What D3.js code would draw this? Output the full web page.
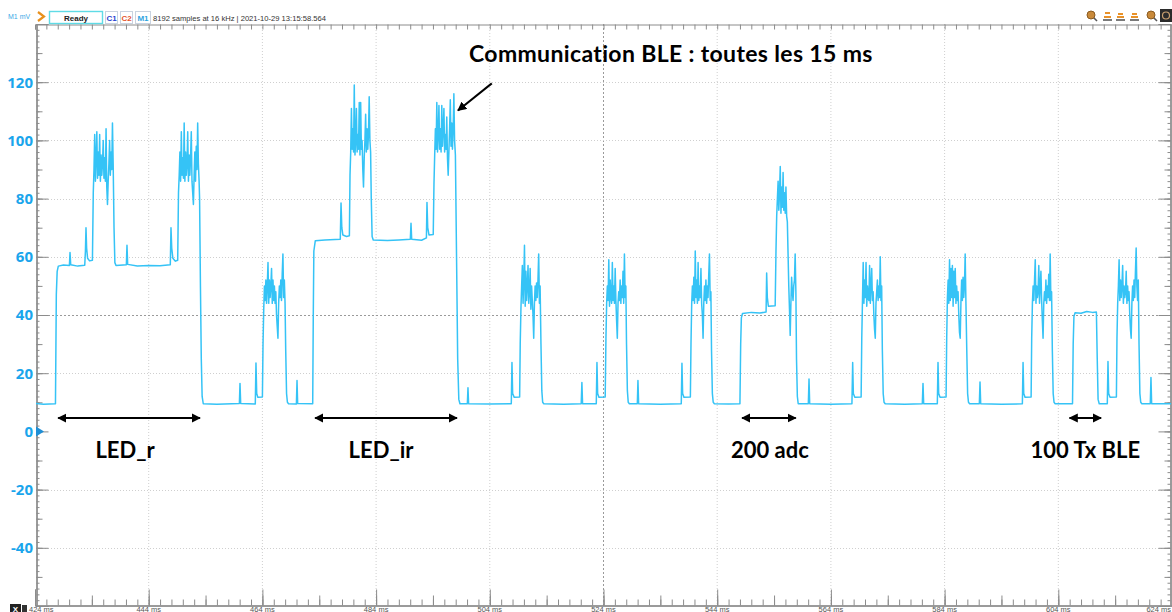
<!DOCTYPE html>
<html>
<head>
<meta charset="utf-8">
<script src="https://cdn.jsdelivr.net/npm/d3@7"></script>
<style>
  html, body { margin: 0; padding: 0; background: #fff; }
  svg { display: block; }
</style>
</head>
<body>
<script>
// ---------- data ----------
const xTickMs = [424, 444, 464, 484, 504, 524, 544, 564, 584, 604, 624];
const xTickText = ["424 ms", "444 ms", "464 ms", "484 ms", "504 ms", "524 ms", "544 ms", "564 ms", "584 ms", "604 ms", "624 ms"];
const yTickVals = [-40, -20, 0, 20, 40, 60, 80, 100, 120];

// slow part of the current trace: [time ms, mV]
const levelTrace = [
  [424.0, 9.6], [425.5, 9.3], [427.6, 9.5],
  [427.75, 47], [427.9, 55], [428.1, 56.8], [429.0, 57.2], [430.05, 57], [430.16, 61.5], [430.28, 57.3],
  [431.5, 56.8], [432.75, 57.1], [432.87, 62], [432.97, 70], [433.08, 63], [433.25, 59.5], [433.6, 58.6], [434.1, 58.8],
  [437.9, 70], [438.05, 58], [438.25, 57], [439.5, 57.2], [440.07, 57.3], [440.18, 64], [440.3, 57.4],
  [442.0, 56.8], [444.0, 57], [446.0, 56.9], [447.8, 57.3], [447.92, 70], [448.05, 63], [448.25, 59.5], [448.7, 58.5], [449.1, 58.8],
  [452.95, 80], [453.1, 50], [453.25, 25], [453.4, 12], [453.6, 9.5], [456.0, 9.3],
  [459.95, 9.6], [460.06, 16.5], [460.18, 9.6],
  [462.75, 9.4], [462.87, 23.5], [463.0, 13], [463.2, 11.7], [464.0, 11.8],
  [468.1, 28], [468.25, 13], [468.4, 10], [468.6, 9.5],
  [469.98, 9.4], [470.09, 17.5], [470.2, 9.6], [472.85, 9.5],
  [472.95, 40], [473.05, 62], [473.3, 65.5], [475.0, 65.8], [477.7, 66], [477.83, 78.5], [477.97, 70], [478.15, 67.5], [478.8, 67], [479.3, 67.2],
  [483.15, 80], [483.3, 67], [483.5, 65.8], [486.0, 65.6], [488.0, 65.8],
  [490.02, 66], [490.14, 71.5], [490.26, 66], [492.0, 65.7],
  [492.85, 66.5], [492.95, 78.7], [493.08, 70], [493.3, 67.5], [494.05, 67.7],
  [497.95, 95], [498.15, 60], [498.35, 25], [498.55, 11], [498.75, 9.5],
  [500.05, 9.5], [500.16, 15], [500.27, 9.5], [504.0, 9.4],
  [507.78, 9.5], [507.9, 23.7], [508.02, 13], [508.3, 11.7], [509.25, 11.8],
  [513.0, 30], [513.15, 14], [513.3, 10], [513.5, 9.5], [517.0, 9.3],
  [520.08, 9.5], [520.2, 16.8], [520.32, 9.5],
  [522.73, 9.5], [522.85, 23.7], [522.97, 13], [523.2, 11.7], [524.3, 11.8],
  [528.05, 30], [528.2, 14], [528.35, 10], [528.55, 9.5],
  [529.95, 9.5], [530.06, 17.5], [530.18, 9.5], [534.0, 9.3],
  [537.68, 9.5], [537.8, 23.4], [537.92, 13], [538.15, 11.7], [539.28, 11.8],
  [543.0, 28], [543.15, 13], [543.3, 10], [543.5, 9.5], [546.0, 9.4],
  [548.0, 9.5], [548.13, 30], [548.25, 39], [548.45, 40.5], [550.0, 40.9], [551.5, 40.7],
  [552.6, 41], [552.7, 54.4], [552.82, 46], [553.0, 43], [554.2, 43.2],
  [557.95, 25], [558.1, 12], [558.25, 9.5],
  [560.03, 9.5], [560.15, 18], [560.27, 9.5], [564.0, 9.3],
  [567.7, 9.5], [567.83, 23.7], [567.95, 13], [568.2, 11.7], [569.32, 11.8],
  [573.05, 28], [573.2, 13], [573.35, 10], [573.55, 9.5], [577.0, 9.3],
  [580.08, 9.5], [580.2, 16.5], [580.32, 9.5],
  [582.72, 9.5], [582.84, 23.7], [582.96, 13], [583.2, 11.7], [584.26, 11.8],
  [587.9, 28], [588.05, 13], [588.2, 10], [588.4, 9.5],
  [590.11, 9.5], [590.23, 17], [590.35, 9.5], [594.0, 9.3],
  [597.68, 9.5], [597.8, 23.7], [597.92, 13], [598.15, 11.7], [599.22, 11.8],
  [602.95, 28], [603.1, 13], [603.25, 10], [603.45, 9.5],
  [606.5, 9.5], [606.62, 30], [606.75, 39.5], [606.95, 40.8], [608.0, 40.6], [609.0, 41.2], [610.0, 40.9], [610.7, 41.0],
  [610.85, 25], [611.0, 11], [611.2, 9.5],
  [612.62, 9.5], [612.74, 24], [612.86, 13], [613.1, 11.7], [614.22, 11.8],
  [618.2, 30], [618.35, 13], [618.5, 10], [618.7, 9.5],
  [620.18, 9.5], [620.3, 18.5], [620.42, 9.5], [624.0, 9.5]
];

// radio / LED bursts sampled every 0.125 ms
const burstStep = 0.125;
const burstStart = [434.25, 449.24, 464.11, 479.41, 494.18, 509.35, 524.43, 539.39, 554.34, 569.43, 584.37, 599.32, 614.32];
const burstValues = [
  [82, 90, 102, 86, 94, 103, 87, 96, 88, 102, 86, 95, 88, 92, 100, 87, 94, 86, 104, 84, 78, 86, 92, 100, 88, 96, 90, 106, 92],
  [82, 88, 96, 86, 103, 88, 94, 87, 106, 86, 96, 88, 92, 103, 86, 95, 88, 94, 103, 86, 82, 78, 88, 96, 86, 98, 90, 106, 92, 86],
  [30, 42, 50, 45, 52, 44, 50, 58, 44, 52, 46, 50, 56, 44, 52, 45, 50, 44, 48, 40, 36, 32, 44, 50, 46, 52, 45, 54, 61, 46, 52, 44],
  [88, 96, 111, 97, 104, 96, 119, 95, 100, 111, 96, 102, 97, 113, 95, 113, 97, 100, 90, 84, 94, 100, 109, 96, 104, 97, 102, 115, 100, 96],
  [85, 95, 104, 97, 113, 96, 102, 112, 97, 104, 96, 112, 98, 104, 111, 96, 102, 97, 108, 94, 88, 96, 104, 114, 98, 106, 97, 104, 116, 100],
  [30, 42, 50, 57, 44, 52, 64, 43, 55, 45, 50, 57, 44, 48, 56, 42, 50, 45, 40, 32, 44, 50, 45, 51, 46, 52, 61, 44, 50],
  [32, 44, 50, 45, 59, 43, 52, 46, 44, 58, 45, 50, 44, 56, 45, 38, 32, 44, 48, 45, 52, 44, 50, 46, 55, 44, 61, 46, 50],
  [30, 44, 50, 45, 53, 44, 62, 46, 52, 44, 58, 45, 50, 46, 56, 44, 40, 32, 44, 50, 45, 52, 44, 50, 46, 54, 61, 45, 48],
  [62, 74, 80, 86, 76, 82, 91, 75, 84, 77, 89, 76, 82, 75, 84, 74, 72, 61, 50, 42, 33, 44, 53, 48, 45, 50, 52, 61, 48],
  [32, 45, 58, 44, 52, 46, 58, 43, 50, 46, 45, 57, 44, 50, 56, 45, 48, 40, 35, 32, 44, 48, 52, 45, 50, 46, 60, 45, 50],
  [32, 46, 52, 44, 59, 45, 56, 46, 57, 43, 55, 46, 56, 44, 50, 45, 48, 40, 34, 32, 44, 52, 45, 53, 46, 50, 61, 45],
  [32, 44, 50, 45, 52, 59, 44, 50, 46, 48, 57, 44, 50, 55, 45, 38, 32, 44, 48, 45, 52, 44, 50, 46, 54, 45, 61, 45, 48],
  [32, 44, 50, 59, 45, 52, 46, 50, 57, 44, 50, 46, 48, 55, 44, 50, 45, 48, 40, 35, 32, 44, 50, 45, 52, 46, 55, 63, 50, 45, 52]
];

// annotations
const titleText = "Communication BLE : toutes les 15 ms";
const calloutFrom = [504.35, 119.6];
const calloutTo = [498.4, 110.3];
const spanLabels = ["LED_r", "LED_ir", "200 adc", "100 Tx BLE"];
const spanStart = [427.9, 473.1, 548.2, 605.8];
const spanEnd = [453.2, 498.4, 558.0, 611.7];
const spanLevel = 4.6;
const labelShift = [-4, -5, 1, 0];

// ---------- layout ----------
const W = 1172, H = 612;
const L = 36, R = 1171, T = 24, B = 606;
const traceColor = "#35c3f6";
const labelBlue = "#1aa5ec";

const svg = d3.select("body").append("svg").attr("width", W).attr("height", H)
  .style("font-family", "Lato, 'Open Sans', sans-serif");

const x = d3.scaleLinear().domain([424, 624]).range([35, 1172]);
const y = d3.scaleLinear().domain([-60, 140]).range([B, T]);

const defs = svg.append("defs");
defs.append("clipPath").attr("id", "plotClip").append("rect")
  .attr("x", L).attr("y", T).attr("width", R - L).attr("height", B - T);
defs.append("marker").attr("id", "head").attr("viewBox", "0 0 10 10")
  .attr("refX", 9).attr("refY", 5).attr("markerWidth", 4.6).attr("markerHeight", 4.6)
  .attr("markerUnits", "strokeWidth").attr("orient", "auto-start-reverse")
  .append("path").attr("d", "M0,0 L10,5 L0,10 z").attr("fill", "#000");

// ---------- grid ----------
const grid = svg.append("g");
const gridX = d3.range(444, 624, 20);
grid.selectAll("line.gx").data(gridX).join("line")
  .attr("x1", d => x(d)).attr("x2", d => x(d)).attr("y1", T).attr("y2", B)
  .attr("stroke", d => d === 524 ? "#9a9a9a" : "#cfcfcf")
  .attr("stroke-dasharray", d => d === 524 ? "2,2" : "1,2").attr("stroke-width", 1);
const gridY = yTickVals.filter(v => v !== 0);
grid.selectAll("line.gy").data(gridY).join("line")
  .attr("x1", L).attr("x2", R).attr("y1", d => Math.round(y(d)) + 0.5).attr("y2", d => Math.round(y(d)) + 0.5)
  .attr("stroke", d => d === 40 ? "#9a9a9a" : "#cfcfcf")
  .attr("stroke-dasharray", d => d === 40 ? "2,2" : "1,2").attr("stroke-width", 1);

// ---------- axes ----------
function tickSet(g, axisGen, vals, size) {
  g.call(axisGen.tickValues(vals).tickSize(size).tickFormat(""));
}
const axisColor = "#8c8c8c";
function styleAxis(g) {
  g.selectAll("path.domain").attr("stroke", axisColor);
  g.selectAll(".tick line").attr("stroke", axisColor);
}
const minorY = d3.range(-60, 141, 2), midY = d3.range(-60, 141, 10), majorY = d3.range(-60, 141, 20);
const minorX = d3.range(424, 625, 2), midX = d3.range(424, 625, 10), majorX = d3.range(424, 625, 20);

[[minorY, 3], [midY, 6], [majorY, 12]].forEach(([v, s]) => {
  const g = svg.append("g").attr("transform", `translate(${L + 0.5},0)`);
  tickSet(g, d3.axisRight(y), v, s); styleAxis(g);
  const g2 = svg.append("g").attr("transform", `translate(${R - 0.5},0)`);
  tickSet(g2, d3.axisLeft(y), v, s); styleAxis(g2);
});
[[minorX, 6], [midX, 10], [majorX, 16]].forEach(([v, s]) => {
  const g = svg.append("g").attr("transform", `translate(0,${B - 0.5})`);
  tickSet(g, d3.axisTop(x), v, s); styleAxis(g);
});
{
  const g = svg.append("g").attr("transform", `translate(0,${T + 0.5})`);
  tickSet(g, d3.axisBottom(x), minorX, 5); styleAxis(g);
}

// y labels
svg.append("g").selectAll("text").data(yTickVals).join("text")
  .attr("x", 33).attr("y", d => y(d)).attr("dy", "0.36em")
  .attr("text-anchor", "end").attr("fill", labelBlue)
  .attr("font-size", 15).attr("font-weight", 700)
  .attr("font-family", "'Open Sans', sans-serif")
  .text(d => d);

// x labels (last one right-aligned to stay inside the frame)
svg.append("g").selectAll("text").data(xTickMs).join("text")
  .attr("x", (d, i) => i === 0 ? x(d) - 6 : (i === xTickMs.length - 1 ? W - 1 : x(d)))
  .attr("y", 611.5)
  .attr("text-anchor", (d, i) => i === 0 ? "start" : (i === xTickMs.length - 1 ? "end" : "middle"))
  .attr("fill", "#555").attr("font-size", 7.5)
  .attr("font-family", "'Liberation Sans', sans-serif")
  .text((d, i) => xTickText[i]);

// zero marker
svg.append("path")
  .attr("d", `M${L},${y(0) - 5} L${L + 8},${y(0)} L${L},${y(0) + 5} Z`)
  .attr("fill", "#1f8fd6");

// ---------- trace ----------
const points = levelTrace.slice();
burstStart.forEach((t0, i) => {
  burstValues[i].forEach((v, k) => points.push([t0 + k * burstStep, v]));
});
points.sort((a, b) => a[0] - b[0]);

svg.append("path").datum(points)
  .attr("clip-path", "url(#plotClip)")
  .attr("fill", "none").attr("stroke", traceColor).attr("stroke-width", 1.5)
  .attr("stroke-linejoin", "round")
  .attr("d", d3.line().x(d => x(d[0])).y(d => y(d[1])));

// ---------- annotations ----------
const ann = svg.append("g").attr("fill", "#000").attr("font-weight", 700)
  .attr("font-family", "Lato, sans-serif");

ann.append("text").attr("x", 469).attr("y", 62).attr("font-size", 23)
  .attr("letter-spacing", 0.35).text(titleText);
ann.append("line")
  .attr("x1", x(calloutFrom[0])).attr("y1", y(calloutFrom[1]))
  .attr("x2", x(calloutTo[0])).attr("y2", y(calloutTo[1]))
  .attr("stroke", "#000").attr("stroke-width", 2).attr("marker-end", "url(#head)");

spanLabels.forEach((lab, i) => {
  const x1 = x(spanStart[i]), x2 = x(spanEnd[i]), yy = y(spanLevel);
  ann.append("line").attr("x1", x1 + 1).attr("x2", x2 - 1).attr("y1", yy).attr("y2", yy)
    .attr("stroke", "#000").attr("stroke-width", 2)
    .attr("marker-start", "url(#head)").attr("marker-end", "url(#head)");
  ann.append("text").attr("x", (x1 + x2) / 2 + labelShift[i]).attr("y", yy + 40)
    .attr("text-anchor", "middle").attr("font-size", 22).text(lab);
});

// ---------- toolbar ----------
const bar = svg.append("g").attr("font-family", "'Liberation Sans', sans-serif");
bar.append("text").attr("x", 8).attr("y", 19).attr("font-size", 7).attr("fill", "#39a9e6").text("M1 mV");
bar.append("path").attr("d", "M38,12 L44,16.5 L38,21").attr("fill", "none")
  .attr("stroke", "#e8901c").attr("stroke-width", 2.2);
bar.append("rect").attr("x", 49.5).attr("y", 11.5).attr("width", 53).attr("height", 12)
  .attr("fill", "#fff").attr("stroke", "#5fdbe6").attr("stroke-width", 1.4);
bar.append("text").attr("x", 76).attr("y", 20.5).attr("text-anchor", "middle")
  .attr("font-size", 8).attr("font-weight", 700).attr("fill", "#222").text("Ready");
[["C1", 105, "#2a3fd0"], ["C2", 120, "#e5532a"], ["M1", 135, "#2ea3e0"]].forEach(([t, bx, c]) => {
  bar.append("rect").attr("x", bx + 0.5).attr("y", 11.5).attr("width", t === "M1" ? 15 : 12).attr("height", 12)
    .attr("fill", "#fff").attr("stroke", "#c9d3e0");
  bar.append("text").attr("x", bx + (t === "M1" ? 8 : 6.5)).attr("y", 20.5).attr("text-anchor", "middle")
    .attr("font-size", 8).attr("font-weight", 700).attr("fill", c).text(t);
});
bar.append("text").attr("x", 153).attr("y", 20.5).attr("font-size", 7.6).attr("fill", "#333")
  .text("8192 samples at 16 kHz | 2021-10-29 13:15:58.564");

// toolbar icons (right)
const icons = svg.append("g");
[1091, 1151].forEach(cx => {
  icons.append("circle").attr("cx", cx).attr("cy", 15).attr("r", 4).attr("fill", "#c98a3a").attr("stroke", "#8a5a20");
  icons.append("line").attr("x1", cx + 3).attr("y1", 18).attr("x2", cx + 6).attr("y2", 21).attr("stroke", "#555").attr("stroke-width", 1.6);
});
[1103, 1116, 1130].forEach((ix, k) => {
  icons.append("rect").attr("x", ix).attr("y", 19).attr("width", 9).attr("height", 2).attr("fill", "#7a7a7a");
  icons.append("rect").attr("x", ix + 2).attr("y", k === 0 ? 12 : 13).attr("width", 5).attr("height", 2).attr("fill", "#e8922a");
  icons.append("rect").attr("x", ix + 1).attr("y", 16).attr("width", 7).attr("height", 2).attr("fill", "#e8922a");
});
icons.append("rect").attr("x", 1160).attr("y", 9).attr("width", 12).attr("height", 13).attr("fill", "#2b2b2b");
icons.append("circle").attr("cx", 1166).attr("cy", 15.5).attr("r", 3.5).attr("fill", "none").attr("stroke", "#c9a070").attr("stroke-width", 1.2);

// bottom-left controls
svg.append("rect").attr("x", 10).attr("y", 604).attr("width", 11).attr("height", 8).attr("fill", "#222");
svg.append("text").attr("x", 15.5).attr("y", 611.5).attr("text-anchor", "middle").attr("font-size", 8)
  .attr("font-weight", 700).attr("fill", "#fff").attr("font-family", "'Liberation Sans', sans-serif").text("X");
svg.append("rect").attr("x", 22).attr("y", 605).attr("width", 5).attr("height", 7).attr("fill", "#333");
</script>
</body>
</html>
